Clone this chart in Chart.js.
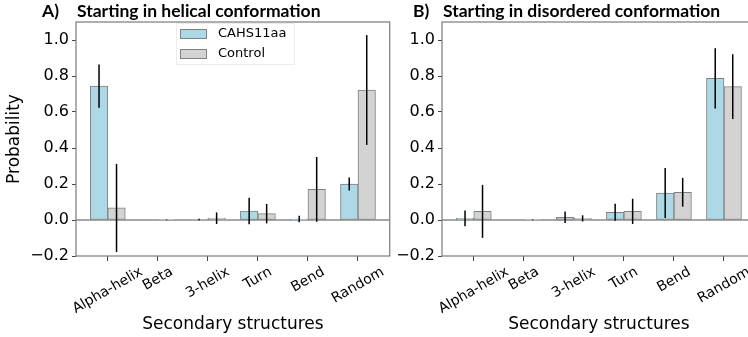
<!DOCTYPE html>
<html><head><meta charset="utf-8">
<script src="https://cdn.jsdelivr.net/npm/chart.js@4.4.1/dist/chart.umd.min.js"></script>
<style>
html,body{margin:0;padding:0;background:#fff;overflow:hidden;width:748px;height:337px;}
#wrap{position:relative;width:748px;height:337px;overflow:hidden;background:#fff;}
canvas{position:absolute;top:0;}
</style></head>
<body><div id="wrap">
<canvas id="cA" width="400" height="337" style="left:0px"></canvas>
<canvas id="cB" width="400" height="337" style="left:366px"></canvas>
</div>
<script>
const categories = ['Alpha-helix', 'Beta', '3-helix', 'Turn', 'Bend', 'Random'];
const seriesNames = ['CAHS11aa', 'Control'];
const yTicks = [-0.2, 0.0, 0.2, 0.4, 0.6, 0.8, 1.0];

// Panel A: starting in helical conformation
const helicalCAHS = [0.744, 0.0, 0.003, 0.050, 0.005, 0.200];
const helicalCAHSErr = [0.120, 0.0, 0.004, 0.073, 0.018, 0.036];
const helicalControl = [0.067, 0.001, 0.010, 0.035, 0.170, 0.722];
const helicalControlErr = [0.245, 0.002, 0.032, 0.054, 0.180, 0.305];

// Panel B: starting in disordered conformation
const disorderedCAHS = [0.009, 0.0, 0.015, 0.043, 0.150, 0.787];
const disorderedCAHSErr = [0.044, 0.0, 0.032, 0.047, 0.139, 0.167];
const disorderedControl = [0.048, 0.001, 0.009, 0.048, 0.154, 0.741];
const disorderedControlErr = [0.147, 0.002, 0.017, 0.070, 0.080, 0.180];

const panelTitles = ['Starting in helical conformation', 'Starting in disordered conformation'];
const panelLetters = ['A)', 'B)'];

const BLUE = '#ADD8E6', GREY = '#D3D3D3', EDGE = '#808080';
const TICKFONT = 'DejaVu Sans';

function fmt(v){ return (v < -1e-9 ? '\u2212' : '') + Math.abs(v).toFixed(1); }

const decor = {
  id: 'decor',
  beforeDatasetsDraw(chart){
    const {ctx, chartArea:a, scales:{y}} = chart;
    const y0 = y.getPixelForValue(0);
    ctx.save();
    ctx.strokeStyle = '#8a8a8a'; ctx.lineWidth = 1.3;
    ctx.beginPath(); ctx.moveTo(a.left, y0); ctx.lineTo(a.right, y0); ctx.stroke();
    ctx.restore();
  },
  afterDatasetsDraw(chart, args, opts){
    const {ctx, chartArea:a, scales:{x, y}} = chart;
    ctx.save();
    // error bars
    ctx.strokeStyle = '#000'; ctx.lineWidth = 1.5;
    opts.errors.forEach((errs, di) => {
      const meta = chart.getDatasetMeta(di);
      const vals = chart.data.datasets[di].data;
      meta.data.forEach((el, i) => {
        const v = vals[i].y, e = errs[i];
        if (!e) return;
        ctx.beginPath();
        ctx.moveTo(el.x, y.getPixelForValue(v + e));
        ctx.lineTo(el.x, y.getPixelForValue(v - e));
        ctx.stroke();
      });
    });
    // frame
    ctx.strokeStyle = '#7a7a7a'; ctx.lineWidth = 1.2;
    ctx.strokeRect(a.left, a.top, a.right - a.left, a.bottom - a.top);
    // x tick labels (rotated 30deg, centred on tick)
    ctx.fillStyle = '#000';
    ctx.font = '14px "' + TICKFONT + '"';
    ctx.textAlign = 'center'; ctx.textBaseline = 'middle';
    const ang = Math.PI / 6;
    categories.forEach((c, i) => {
      const px = x.getPixelForValue(i);
      const w = ctx.measureText(c).width, h = 16;
      const bh = w * Math.sin(ang) + h * Math.cos(ang);
      const cy = a.bottom + 8 + bh / 2;
      ctx.save(); ctx.translate(px, cy); ctx.rotate(-ang); ctx.fillText(c, 0, 0); ctx.restore();
    });
    // panel letter + title
    ctx.font = 'bold 17.5px Lato';
    ctx.textAlign = 'left'; ctx.textBaseline = 'alphabetic';
    ctx.fillText(opts.letter, opts.letterX, 17);
    ctx.fillText(opts.title, 77, 17);
    // legend
    if (opts.legend) {
      ctx.fillStyle = '#fff'; ctx.strokeStyle = '#ececec'; ctx.lineWidth = 1;
      ctx.fillRect(176, 23.5, 119, 41); ctx.strokeRect(176.5, 23.5, 118, 41);
      [BLUE, GREY].forEach((col, k) => {
        const by = 29 + k * 20;
        ctx.fillStyle = col; ctx.fillRect(180, by, 27, 10);
        ctx.strokeStyle = EDGE; ctx.lineWidth = 1; ctx.strokeRect(180.5, by + 0.5, 26, 9);
        ctx.fillStyle = '#000'; ctx.font = '13px "' + TICKFONT + '"';
        ctx.textBaseline = 'middle';
        ctx.fillText(seriesNames[k], 218, by + 5);
      });
    }
    ctx.restore();
  }
};

function makeChart(id, a, aErr, b, bErr, idx){
  const mk = arr => arr.map((v, i) => ({x: i, y: v}));
  return new Chart(document.getElementById(id), {
    type: 'bar',
    data: {
      datasets: [
        {label: seriesNames[0], data: mk(a), backgroundColor: BLUE, borderColor: EDGE, borderWidth: 1, borderSkipped: false, barThickness: 17.5},
        {label: seriesNames[1], data: mk(b), backgroundColor: GREY, borderColor: EDGE, borderWidth: 1, borderSkipped: false, barThickness: 17.5}
      ]
    },
    options: {
      responsive: false, animation: false, devicePixelRatio: 1,
      layout: {padding: {left: 0, top: 22, right: 10.25, bottom: 0}},
      plugins: {
        legend: {display: false}, tooltip: {enabled: false},
        decor: {errors: [aErr, bErr], letter: panelLetters[idx], letterX: idx === 0 ? 42 : 47, title: panelTitles[idx], legend: idx === 0}
      },
      scales: {
        x: {
          type: 'linear', min: -0.635, max: 5.635, offset: false,
          afterBuildTicks: s => { s.ticks = categories.map((c, i) => ({value: i})); },
          afterFit: s => { s.height = 81; },
          ticks: {display: false},
          grid: {drawOnChartArea: false, offset: false, tickLength: 5, color: '#444', tickWidth: 1},
          border: {display: false},
          title: {display: true, text: 'Secondary structures', color: '#000', font: {family: TICKFONT, size: 17}, padding: {top: 0, bottom: 2}}
        },
        y: {
          min: -0.2, max: 1.1,
          afterBuildTicks: s => { s.ticks = yTicks.map(v => ({value: v})); },
          afterFit: s => { s.width = 76; },
          ticks: {callback: v => fmt(v), color: '#000', font: {family: TICKFONT, size: 16}, padding: 3},
          grid: {drawOnChartArea: false, tickLength: 4, color: '#444'},
          border: {display: false},
          title: {display: idx === 0, text: 'Probability', color: '#000', font: {family: TICKFONT, size: 17}, padding: {top: 4, bottom: 0}}
        }
      }
    },
    plugins: [decor]
  });
}

makeChart('cA', helicalCAHS, helicalCAHSErr, helicalControl, helicalControlErr, 0);
makeChart('cB', disorderedCAHS, disorderedCAHSErr, disorderedControl, disorderedControlErr, 1);
</script>
</body></html>
